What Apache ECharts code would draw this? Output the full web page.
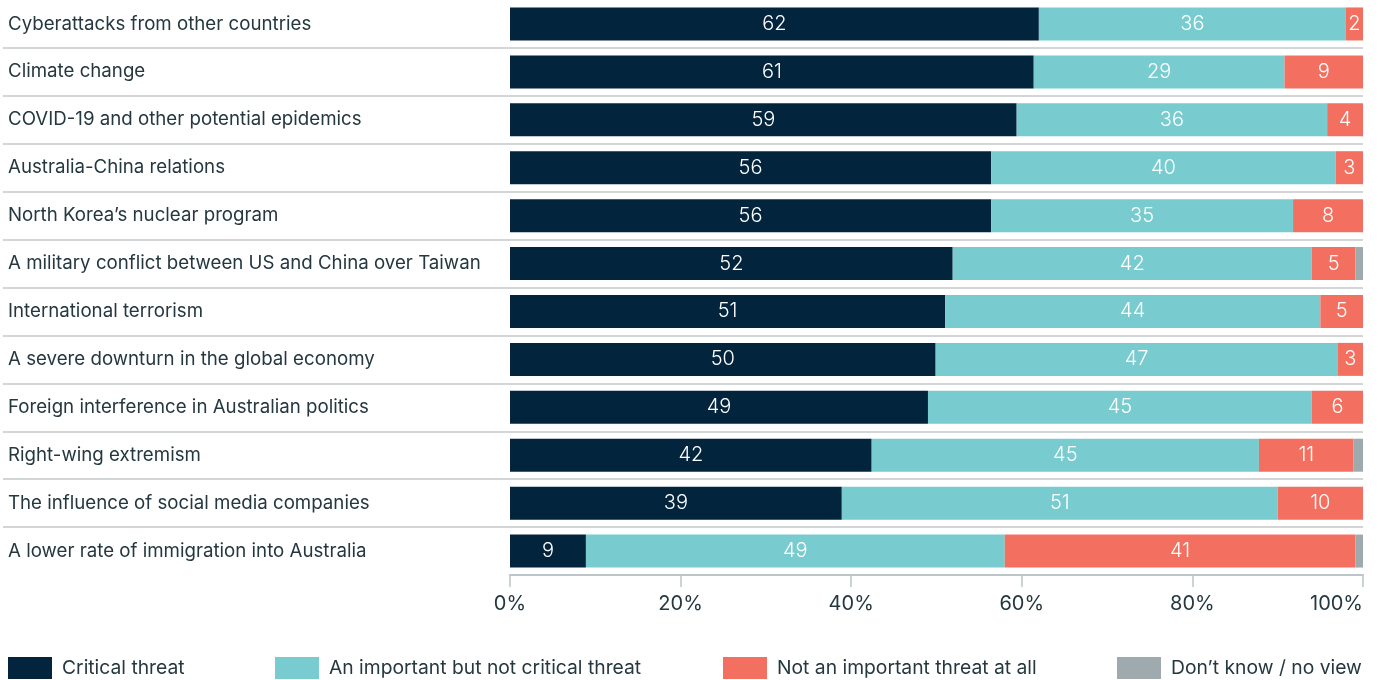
<!DOCTYPE html>
<html>
<head>
<meta charset="utf-8">
<script src="https://cdn.jsdelivr.net/npm/echarts@6/dist/echarts.min.js"></script>
<style>
html,body{margin:0;padding:0;background:#fff;}
#chart{width:1378px;height:680px;}
</style>
</head>
<body>
<div id="chart"></div>
<script>
const categories = [
  'Cyberattacks from other countries',
  'Climate change',
  'COVID-19 and other potential epidemics',
  'Australia-China relations',
  'North Korea\u2019s nuclear program',
  'A military conflict between US and China over Taiwan',
  'International terrorism',
  'A severe downturn in the global economy',
  'Foreign interference in Australian politics',
  'Right-wing extremism',
  'The influence of social media companies',
  'A lower rate of immigration into Australia'
];
const seriesNames = ['Critical threat', 'An important but not critical threat', 'Not an important threat at all', 'Don\u2019t know / no view'];
const critical     = [62, 61.4, 59.4, 56.4, 56.4, 51.9, 51.0, 49.9, 49.0, 42.4, 38.9, 8.9];
const important    = [36, 29.4, 36.4, 40.4, 35.4, 42.1, 44.0, 47.1, 45.0, 45.4, 51.1, 49.1];
const notImportant = [2, 9.2, 4.2, 3.2, 8.2, 5.1, 5.0, 3.0, 6.0, 11.1, 10.0, 41.1];
const dontKnow     = [0, 0, 0, 0, 0, 0.9, 0, 0, 0, 1.1, 0, 0.9];
const xTicks = [0, 20, 40, 60, 80, 100];

const colors = ['#03243d', '#78cccf', '#f37060', '#9eaaae'];
const textColor = '#25383f';
const FONT = 'Inter, "Noto Sans", sans-serif';

const chart = echarts.init(document.getElementById('chart'), null, {renderer: 'canvas'});

const valuesList = [critical, important, notImportant, dontKnow];
const series = valuesList.map((vals, i) => ({
  name: seriesNames[i],
  type: 'bar',
  stack: 'total',
  xAxisIndex: 0,
  yAxisIndex: 0,
  barWidth: 33,
  data: vals,
  itemStyle: {color: colors[i]},
  label: {
    show: i < 3,
    position: 'inside',
    color: '#ffffff',
    fontFamily: FONT,
    fontWeight: 300,
    fontSize: 20,
    formatter: p => String(Math.round(p.value))
  }
}));

const sepColors = ['transparent'];
for (let i = 1; i < categories.length; i++) sepColors.push('#c3c8ca');
sepColors.push('transparent');

const legendLefts = [8, 275, 723, 1117];
const legends = seriesNames.map((n, i) => ({
  data: [n],
  left: legendLefts[i],
  top: 657,
  itemWidth: 44,
  itemHeight: 22,
  icon: 'rect',
  selectedMode: false,
  padding: 0,
  textStyle: {color: textColor, fontFamily: FONT, fontSize: 19.3, padding: [2, 0, 0, 5]}
}));

chart.setOption({
  animation: false,
  backgroundColor: '#ffffff',
  legend: legends,
  grid: [
    {left: 510, right: 15, top: -1, height: 576, containLabel: false},
    {left: 3, right: 15, top: -1, height: 576, containLabel: false}
  ],
  xAxis: [
    {
      type: 'value', gridIndex: 0, min: 0, max: 100, interval: 20,
      axisLine: {show: true, lineStyle: {color: '#bcc5c8', width: 2}},
      axisTick: {show: true, length: 12, lineStyle: {color: '#bcc5c8', width: 1.5}},
      splitLine: {show: false},
      axisLabel: {
        color: textColor, fontFamily: FONT, fontSize: 20, margin: 19,
        formatter: v => xTicks.indexOf(v) >= 0 ? v + '%' : '',
        alignMaxLabel: 'right'
      }
    },
    {type: 'value', gridIndex: 1, min: 0, max: 1, show: false}
  ],
  yAxis: [
    {
      type: 'category', gridIndex: 0, data: categories, inverse: true,
      axisLine: {show: false}, axisTick: {show: false}, splitLine: {show: false},
      axisLabel: {
        align: 'left', margin: 502, color: textColor,
        fontFamily: FONT, fontSize: 18.7, padding: [2, 0, 0, 0]
      }
    },
    {
      type: 'value', gridIndex: 1, min: 0, max: categories.length, interval: 1, inverse: true,
      axisLine: {show: false}, axisTick: {show: false}, axisLabel: {show: false},
      splitLine: {show: true, lineStyle: {color: sepColors, width: 1.5}}
    }
  ],
  series: series
});
</script>
</body>
</html>
